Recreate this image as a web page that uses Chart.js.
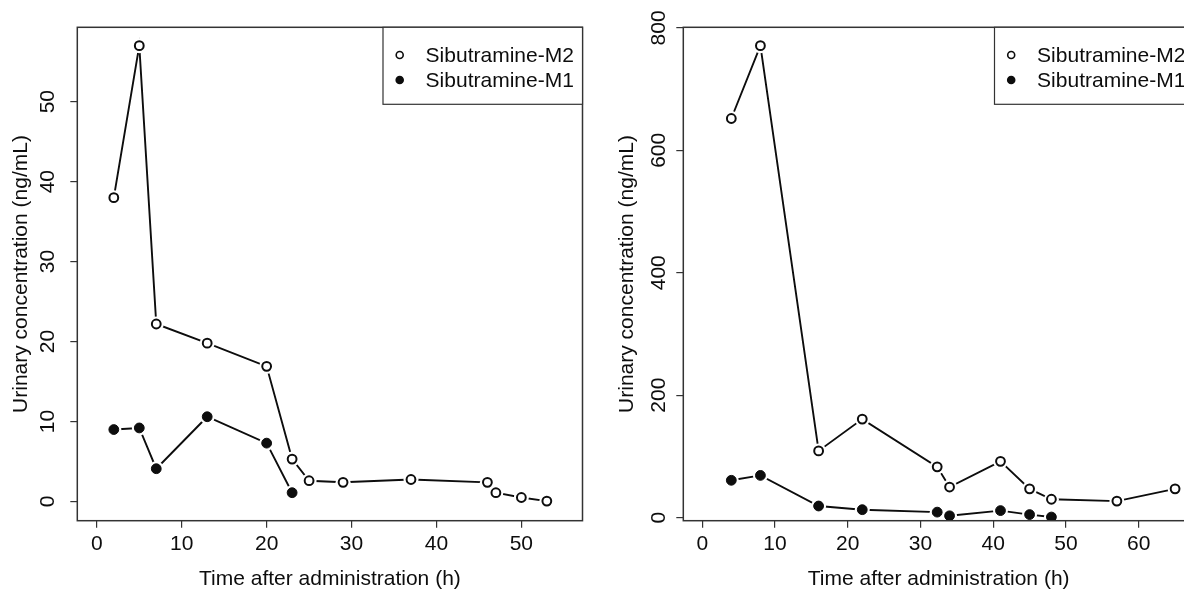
<!DOCTYPE html>
<html>
<head>
<meta charset="utf-8">
<script src="https://cdn.jsdelivr.net/npm/chart.js@4.4.1/dist/chart.umd.min.js"></script>
<style>
  html, body { margin: 0; padding: 0; background: #ffffff; width: 1184px; height: 590px; overflow: hidden; }
  #wrap { position: relative; width: 1184px; height: 590px; overflow: hidden; background: #fff; }
  .pane { position: absolute; top: 0; height: 590px; }
  #p1 { left: 0; width: 590px; }
  #p2 { left: 590px; width: 640px; }
</style>
</head>
<body>
<div id="wrap">
  <div class="pane" id="p1"><canvas id="c1" width="590" height="590"></canvas></div>
  <div class="pane" id="p2"><canvas id="c2" width="640" height="590"></canvas></div>
</div>
<script>
// ---------- data ----------
const seriesNames = ["Sibutramine-M2", "Sibutramine-M1"];
const xTitle = "Time after administration (h)";
const yTitle = "Urinary concentration (ng/mL)";

// Left panel
const leftTimeM2 = [2, 5, 7, 13, 20, 23, 25, 29, 37, 46, 47, 50, 53];
const leftM2     = [38, 57, 22.2, 19.8, 16.9, 5.3, 2.6, 2.4, 2.75, 2.4, 1.1, 0.5, 0.05];
const leftTimeM1 = [2, 5, 7, 13, 20, 23];
const leftM1     = [9.0, 9.2, 4.1, 10.6, 7.3, 1.1];
const leftXTicks = [0, 10, 20, 30, 40, 50];
const leftYTicks = [0, 10, 20, 30, 40, 50];

// Right panel
const rightTimeM2 = [4, 8, 16, 22, 32.3, 34, 41, 45, 48, 57, 65];
const rightM2     = [652, 771, 109, 161, 83, 50, 92, 47, 30, 27, 47];
const rightTimeM1 = [4, 8, 16, 22, 32.3, 34, 41, 45, 48];
const rightM1     = [61, 69, 19, 13, 9, 3, 11.5, 5, 1];
const rightXTicks = [0, 10, 20, 30, 40, 50, 60];
const rightYTicks = [0, 200, 400, 600, 800];

// ---------- helpers ----------
const FONT = "'Liberation Sans', Arial, Helvetica, sans-serif";
const FS = 21;
const INK = '#0d0d0d';

function pts(xs, ys) { return xs.map((x, i) => ({ x: x, y: ys[i] })); }

// R "type = b" look: line layer, white halo layer (gaps), marker layer
function makeDatasets(tM2, vM2, tM1, vM1) {
  const series = [
    { name: seriesNames[0], data: pts(tM2, vM2), fill: '#ffffff', r: 4.4, bw: 2 },
    { name: seriesNames[1], data: pts(tM1, vM1), fill: INK, r: 4.9, bw: 1 }
  ];
  const out = [];
  series.forEach(s => {
    out.push({ label: s.name, role: 'line', data: s.data, showLine: true, borderColor: INK, borderWidth: 1.9,
      pointRadius: 0, tension: 0, order: 3 });
    out.push({ label: s.name, role: 'halo', data: s.data, showLine: false,
      pointRadius: 7.5, pointBorderWidth: 0, pointBackgroundColor: '#ffffff', pointBorderColor: '#ffffff', order: 2 });
    out.push({ label: s.name, role: 'marker', data: s.data, showLine: false,
      pointRadius: s.r, pointBorderWidth: s.bw, pointBackgroundColor: s.fill, pointBorderColor: INK, order: 1 });
  });
  return out;
}

const boxAndLegend = {
  id: 'boxAndLegend',
  afterDraw(chart) {
    const ctx = chart.ctx, a = chart.chartArea;
    ctx.save();
    ctx.strokeStyle = '#333333';
    ctx.lineWidth = 1.5;
    ctx.strokeRect(a.left, a.top, a.right - a.left, a.bottom - a.top);
    // legend box anchored to top-right of plot area
    const w = 199.5, h = 77;
    const lx = a.right - w, ly = a.top;
    ctx.fillStyle = '#ffffff';
    ctx.fillRect(lx, ly, w, h);
    ctx.lineWidth = 1.2;
    ctx.strokeRect(lx, ly, w, h);
    ctx.font = FS + 'px ' + FONT;
    ctx.textBaseline = 'middle';
    ctx.textAlign = 'left';
    chart.data.datasets.filter(ds => ds.role === 'marker').forEach((ds, i) => {
      const cy = ly + 27.7 + i * 25;
      ctx.beginPath();
      ctx.arc(lx + 16.7, cy, 3.5, 0, Math.PI * 2);
      ctx.fillStyle = ds.pointBackgroundColor;
      ctx.fill();
      ctx.lineWidth = 1.6;
      ctx.strokeStyle = ds.pointBorderColor;
      ctx.stroke();
      ctx.fillStyle = INK;
      ctx.fillText(ds.label, lx + 42.6, cy + 1);
    });
    ctx.restore();
  }
};

function makeChart(canvasId, datasets, xr, yr, xTicks, yTicks, lay) {
  return new Chart(document.getElementById(canvasId), {
    type: 'scatter',
    data: { datasets: datasets },
    options: {
      responsive: false,
      animation: false,
      events: [],
      layout: { padding: { left: 0, top: lay.top, right: lay.right, bottom: 0 } },
      plugins: { legend: { display: false }, tooltip: { enabled: false } },
      scales: {
        x: {
          type: 'linear', min: xr[0], max: xr[1],
          afterBuildTicks: s => { s.ticks = xTicks.map(v => ({ value: v })); },
          afterFit: s => { s.height = lay.xh; },
          grid: { display: true, drawOnChartArea: false, drawTicks: true, tickLength: 7, color: '#333333', lineWidth: 1.2 },
          border: { display: false },
          ticks: { color: INK, font: { family: FONT, size: FS }, padding: lay.xpad, maxRotation: 0, autoSkip: false },
          title: { display: true, text: xTitle, color: INK, font: { family: FONT, size: FS, lineHeight: 1 }, padding: { top: 0, bottom: lay.xtp } }
        },
        y: {
          type: 'linear', min: yr[0], max: yr[1],
          afterBuildTicks: s => { s.ticks = yTicks.map(v => ({ value: v })); },
          afterFit: s => { s.width = lay.yw; },
          grid: { display: true, drawOnChartArea: false, drawTicks: true, tickLength: 7, color: '#333333', lineWidth: 1.2 },
          border: { display: false },
          ticks: { color: INK, font: { family: FONT, size: FS }, padding: lay.ypad, minRotation: 90, maxRotation: 90, crossAlign: 'center', autoSkip: false },
          title: { display: true, text: yTitle, color: INK, font: { family: FONT, size: FS, lineHeight: 1 }, padding: { top: lay.ytp, bottom: 0 } }
        }
      }
    },
    plugins: [boxAndLegend]
  });
}

makeChart('c1', makeDatasets(leftTimeM2, leftM2, leftTimeM1, leftM1),
  [-2.3, 57.2], [-2.4, 59.3], leftXTicks, leftYTicks,
  { top: 27.3, right: 7, xh: 69.3, yw: 77.3, xpad: 4, xtp: 0.5, ypad: 10, ytp: 11.2 });

makeChart('c2', makeDatasets(rightTimeM2, rightM2, rightTimeM1, rightM1),
  [-2.6, 67.6], [-5, 801], rightXTicks, rightYTicks,
  { top: 27.3, right: 36, xh: 69.3, yw: 93.3, xpad: 4, xtp: 0.5, ypad: 0, ytp: 26.8 });
</script>
</body>
</html>
